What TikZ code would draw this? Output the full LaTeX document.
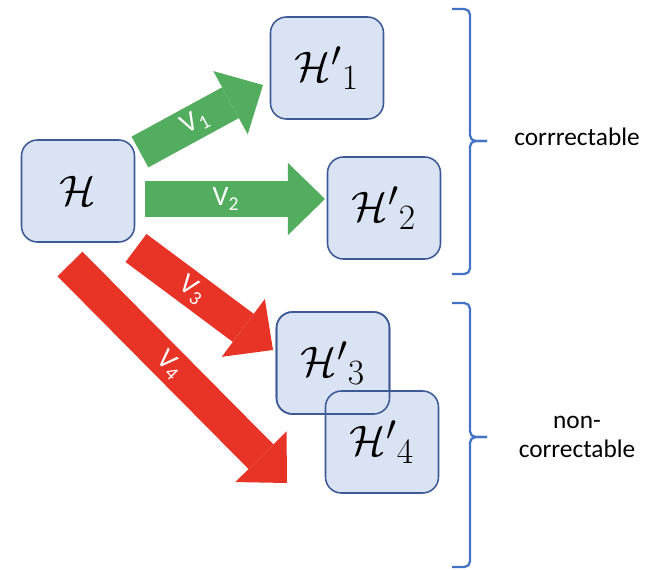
\documentclass[tikz,border=0pt]{standalone}
\usepackage{graphicx}
\usepackage[no-math]{fontspec}
\setmainfont{Carlito}
\usetikzlibrary{arrows.meta}
\definecolor{boxfill}{HTML}{DAE3F3}
\definecolor{boxline}{HTML}{3C5A96}
\definecolor{okgreen}{HTML}{52AD5E}
\definecolor{badred}{HTML}{E83426}
\definecolor{bracecol}{HTML}{4472C4}
\newcommand{\hyp}[1]{\scalebox{1.22}{$#1$}}

\begin{document}
\begin{tikzpicture}[x=0.025cm, y=-0.025cm, every node/.style={font=\fontsize{18}{20.5}\selectfont}, box/.style={draw=boxline, line width=1.1pt, outer sep=0pt, rounded corners=0.4cm, minimum width=2.825cm, minimum height=2.55cm, fill=boxfill, font=\Huge}, fat/.style={line width=0.875cm, -{Triangle[width=1.8cm, length=0.925cm, line width=0pt]}}, vlabel/.style={sloped, text=white, inner sep=1pt, font=\fontsize{20}{22}\selectfont}, bracket/.style={draw=bracecol, line width=1.6pt, rounded corners=4pt}]
\useasboundingbox (0,0) rectangle (650,570);
% ends of the fat arrows
\coordinate (v1s) at (140,152); \coordinate (v1e) at (263,85);
\coordinate (v2s) at (145,199); \coordinate (v2e) at (325,199);
\coordinate (v3s) at (136,248); \coordinate (v3e) at (273,350);
\coordinate (v4s) at (70,264); \coordinate (v4e) at (287,483);
\draw[fat, okgreen] (v1s) -- node[vlabel, pos=0.45] {V\textsubscript{1}} (v1e);
\draw[fat, okgreen] (v2s) -- node[vlabel, pos=0.45] {V\textsubscript{2}} (v2e);
\draw[fat, badred] (v3s) -- node[vlabel, pos=0.41] {V\textsubscript{3}} (v3e);
\draw[fat, badred] (v4s) -- node[vlabel, pos=0.46] {V\textsubscript{4}} (v4e);
\node[box] (H) at (78,191) {\hyp{\mathcal{H}}};
\node[box] (h1) at (327,68) {\hyp{{\mathcal{H}'}_1}};
\node[box] (h2) at (384,208) {\hyp{{\mathcal{H}'}_2}};
\node[box] (h3) at (333,363) {\hyp{{\mathcal{H}'}_3}};
\node[box] (h4) at (382,442) {\hyp{{\mathcal{H}'}_4}};
\draw[draw=boxline, line width=1.1pt, rounded corners=0.4cm] (h3.south west) rectangle (h3.north east);
% brackets
\draw[bracket] (452,9) -| (470,141) -- (487,141);
\draw[bracket] (487,141) -| (470,274) -- (452,274);
\draw[bracket] (452,303) -| (470,437) -- (487,437);
\draw[bracket] (487,437) -| (470,567) -- (452,567);
\node (corr) at (577,137) {corrrectable};
\node[align=center] (noncorr) at (577,437) {non-\\correctable};
\end{tikzpicture}
\end{document}
